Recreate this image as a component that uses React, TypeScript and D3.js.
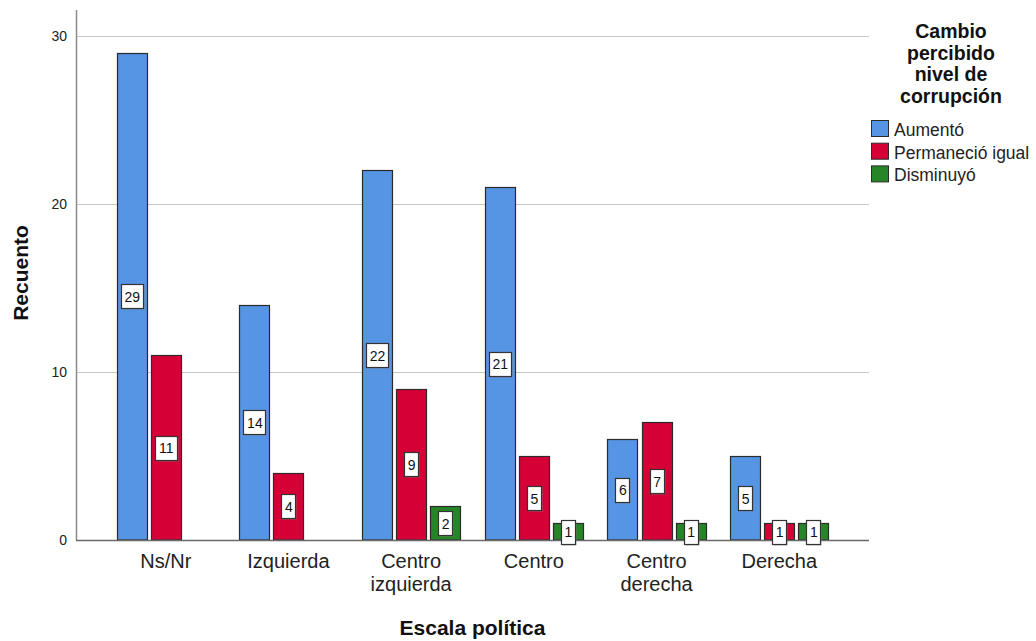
import React from 'react';
import * as d3 from 'd3';

const categories = ["Ns/Nr", "Izquierda", "Centro izquierda", "Centro", "Centro derecha", "Derecha"];
const categoryLines = [["Ns/Nr"], ["Izquierda"], ["Centro", "izquierda"], ["Centro"], ["Centro", "derecha"], ["Derecha"]];
const seriesNames = ["Aumentó", "Permaneció igual", "Disminuyó"];
const aumento: (number | null)[] = [29, 14, 22, 21, 6, 5];
const permanecio: (number | null)[] = [11, 4, 9, 5, 7, 1];
const disminuyo: (number | null)[] = [null, null, 2, 1, 1, 1];
const seriesValues = [aumento, permanecio, disminuyo];
const seriesColors = ["#5694E4", "#D50036", "#268526"];
const yTicks = [0, 10, 20, 30];
const legendTitle = ["Cambio", "percibido", "nivel de", "corrupción"];
const xTitle = "Escala política";
const yTitle = "Recuento";

const W = 1036, H = 641;
const left = 76, right = 869, bottom = 540;

export default function App() {
  const y = d3.scaleLinear().domain([0, 30]).range([bottom, 36]);
  const x = d3.scaleBand<string>().domain(categories).range([left, right]).paddingInner(0.2).paddingOuter(0.3315);
  const xs = d3.scaleBand<string>().domain(seriesNames).range([0, x.bandwidth()]).paddingInner(0.118);
  const font = "'Liberation Sans', Arial, sans-serif";

  const bars: React.ReactNode[] = [];
  const labels: React.ReactNode[] = [];
  seriesValues.forEach((vals, si) => {
    vals.forEach((v, ci) => {
      if (v == null) return;
      const bx = (x(categories[ci]) as number) + (xs(seriesNames[si]) as number);
      const bw = xs.bandwidth();
      bars.push(
        <rect key={`b${si}-${ci}`} x={Math.round(bx) + 0.5} y={Math.round(y(v)) + 0.5}
          width={Math.round(bw)} height={Math.round(bottom - y(v)) - 0.5}
          fill={seriesColors[si]} stroke="#2b2b2b" strokeWidth={1.2} />
      );
      const txt = String(v);
      const lw = txt.length * 8 + 6;
      const lh = 24;
      const cx = bx + bw / 2;
      const cy = y(v / 2);
      labels.push(
        <g key={`l${si}-${ci}`}>
          <rect x={Math.round(cx - lw / 2) + 1.5} y={Math.round(cy - lh / 2) + 1.5} width={lw} height={lh} fill="#8a8a8a" opacity={0.6} />
          <rect x={Math.round(cx - lw / 2) + 0.5} y={Math.round(cy - lh / 2) + 0.5} width={lw} height={lh} fill="#ffffff" stroke="#333" strokeWidth={1.2} />
          <text x={cx + 0.5} y={cy + 5.5} textAnchor="middle" fontSize={14} fontFamily={font} fill="#111">{txt}</text>
        </g>
      );
    });
  });

  return (
    <svg width={W} height={H} style={{ position: 'absolute', left: 0, top: 0, background: '#fff' }}>
      <rect x={0} y={0} width={W} height={H} fill="#fff" />
      {yTicks.filter(t => t > 0).map(t => (
        <line key={`g${t}`} x1={left} x2={right} y1={Math.round(y(t)) + 0.5} y2={Math.round(y(t)) + 0.5} stroke="#c6c6c6" strokeWidth={1.2} />
      ))}
      {yTicks.map(t => (
        <text key={`t${t}`} x={67} y={y(t) + 5} textAnchor="end" fontSize={14} fontFamily={font} fill="#222">{t}</text>
      ))}
      {bars}
      <line x1={left + 0.5} x2={left + 0.5} y1={10} y2={bottom} stroke="#8a8a8a" strokeWidth={1.5} />
      <line x1={left} x2={right} y1={bottom + 0.5} y2={bottom + 0.5} stroke="#6a6a6a" strokeWidth={1.5} />
      {labels}
      {categories.map((c, i) => (
        <text key={`c${c}`} x={(x(c) as number) + x.bandwidth() / 2} y={568} textAnchor="middle" fontSize={20} fontFamily={font} fill="#222">
          {categoryLines[i].map((ln, j) => (
            <tspan key={j} x={(x(c) as number) + x.bandwidth() / 2} dy={j === 0 ? 0 : 22.5}>{ln}</tspan>
          ))}
        </text>
      ))}
      <text x={472.5} y={635} textAnchor="middle" fontSize={21} fontWeight="bold" fontFamily={font} fill="#111">{xTitle}</text>
      <text transform={`translate(28,273) rotate(-90)`} textAnchor="middle" fontSize={21} fontWeight="bold" fontFamily={font} fill="#111">{yTitle}</text>
      {legendTitle.map((ln, i) => (
        <text key={`lt${i}`} x={951} y={38 + i * 21.5} textAnchor="middle" fontSize={19.5} fontWeight="bold" fontFamily={font} fill="#111">{ln}</text>
      ))}
      {seriesNames.map((s, i) => (
        <g key={`lg${i}`}>
          <rect x={871.5} y={120.5 + i * 22.7} width={17} height={16} fill={seriesColors[i]} stroke="#2b2b2b" strokeWidth={1} />
          <text x={894} y={136 + i * 22.7} fontSize={17.5} fontFamily={font} fill="#222">{s}</text>
        </g>
      ))}
    </svg>
  );
}
